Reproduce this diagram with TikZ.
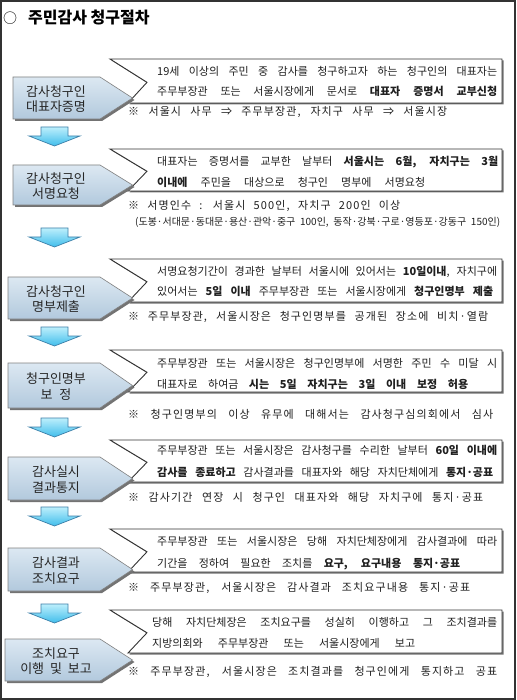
\documentclass[tikz,border=0pt]{standalone}
\usepackage{fontspec}
\usepackage{graphicx}
\setmainfont{Noto Sans CJK KR}[WordSpace=2]
\newfontfamily\notefont{Noto Sans CJK KR}[LetterSpace=10,WordSpace=2]
\newfontfamily\plainfont{Noto Sans CJK KR}
\definecolor{pentTop}{HTML}{DCE8F2}
\definecolor{pentBot}{HTML}{B2C9DD}
\definecolor{arrTop}{HTML}{BDEFFC}
\definecolor{arrBot}{HTML}{3FBDEB}
\definecolor{arrLine}{HTML}{3C7FA8}
\newlength\fitlen
\newcommand\fitto[2]{\settowidth{\fitlen}{#2}\ifdim\fitlen>#1\relax\resizebox{#1}{\height}{#2}\else\makebox[#1][s]{#2}\fi}
\tikzset{
  frame/.style={draw=black!80, line width=1.8pt},
  wboxstyle/.style={draw=black!80, fill=white, line width=0.9pt},
  wshadow/.style={fill=black!55},
  pentstyle/.style={draw=black!50, line width=0.6pt, top color=pentTop, bottom color=pentBot},
  pshadow/.style={fill=black!55},
  darr/.style={draw=arrLine, line width=0.7pt, top color=arrTop, bottom color=arrBot},
  mtxt/.style={inner sep=0pt, anchor=west, text height=8.5pt, text depth=2pt, font=\fontsize{11}{12}\selectfont, text=black!88},
  ntxt/.style={mtxt, font=\fontsize{11}{12}\notefont},
  plabel/.style={inner sep=0pt, align=center, font=\fontsize{13}{15.5}\selectfont, text=black!85},
}
\newcommand\pentagon[5]{%
  \fill[pshadow] ({#1+2},{#2+2}) -- (102,{#2+2}) -- (134.5,{(#2+#3)/2+2}) -- (102,{#3+2}) -- ({#1+2},{#3+2}) -- cycle;
  \draw[pentstyle] (#1,#2) -- (100,#2) -- (132.5,{(#2+#3)/2}) -- (100,#3) -- (#1,#3) -- cycle;
  \node[plabel] (#4) at (56,{(#2+#3)/2+1}) {#5};
}
\newcommand\wbox[2]{%
  \fill[wshadow] (111.5,{#1+1.5}) -- (503.5,{#1+1.5}) -- (503.5,{#2+1.5}) -- (129.5,{#2+1.5}) -- (148.5,{#1+0.53*(#2-#1)+1.5}) -- cycle;
  \draw[wboxstyle] (110,#1) -- (502,#1) -- (502,#2) -- (128,#2) -- (147,{#1+0.53*(#2-#1)}) -- cycle;
}
\newcommand\darrow[1]{%
  \draw[darr] (41,#1) -- (68,#1) -- (68,{#1+9}) -- (80,{#1+9}) -- (54.5,{#1+19}) -- (29,{#1+9}) -- (41,{#1+9}) -- cycle;
}
\begin{document}
\begin{tikzpicture}[x=1pt,y=-1pt]
\useasboundingbox (0,0) rectangle (516,700);
\fill[white] (0,0) rectangle (516,700);
\draw[frame] (1,1) rectangle (515,699);
% title
\node[inner sep=0pt, font=\fontsize{14}{15}\selectfont] (bullet) at (10,18) {○};
\node[inner sep=0pt, anchor=west, font=\fontsize{16}{18}\plainfont\bfseries] (title) at (28,18) {주민감사 청구절차};
% step 1
\wbox{59}{103}
\pentagon{13}{77}{119}{p1}{감사청구인\\대표자증명}
\node[mtxt] (t1a) at (157,72) {\fitto{340pt}{19세 이상의 주민 중 감사를 청구하고자 하는 청구인의 대표자는}};
\node[mtxt] (t1b) at (157,92) {\fitto{340pt}{주무부장관 또는 서울시장에게 문서로 \textbf{대표자 증명서 교부신청}}};
\node[ntxt] (n1) at (128,112) {\fitto{319pt}{※ 서울시 사무 ⇒ 주무부장관, 자치구 사무 ⇒ 서울시장}};
\darrow{127}
% step 2
\wbox{149}{191}
\pentagon{13}{165}{205}{p2}{감사청구인\\서명요청}
\node[mtxt] (t2a) at (157,162) {\fitto{341pt}{대표자는 증명서를 교부한 날부터 \textbf{서울시는 6월, 자치구는 3월}}};
\node[mtxt] (t2b) at (157,183) {\fitto{268pt}{\textbf{이내에} 주민을 대상으로 청구인 명부에 서명요청}};
\node[ntxt] (n2a) at (128,206) {\fitto{272pt}{※ 서명인수 : 서울시 500인, 자치구 200인 이상}};
\node[mtxt, font=\fontsize{10}{11}\selectfont] (n2b) at (135,222) {\fitto{365pt}{(도봉·서대문·동대문·용산·관악·중구 100인, 동작·강북·구로·영등포·강동구 150인)}};
\darrow{228}
% step 3
\wbox{259}{302}
\pentagon{8}{277}{319}{p3}{감사청구인\\명부제출}
\node[mtxt] (t3a) at (157,272) {\fitto{340pt}{서명요청기간이 경과한 날부터 서울시에 있어서는 \textbf{10일이내}, 자치구에}};
\node[mtxt] (t3b) at (157,292) {\fitto{336pt}{있어서는 \textbf{5일 이내} 주무부장관 또는 서울시장에게 \textbf{청구인명부 제출}}};
\node[ntxt] (n3) at (128,317) {\fitto{360pt}{※ 주무부장관, 서울시장은 청구인명부를 공개된 장소에 비치·열람}};
\darrow{327}
% step 4
\wbox{350}{392}
\pentagon{8}{363}{408}{p4}{청구인명부\\보\hspace{7pt}정}
\node[mtxt] (t4a) at (157,364) {\fitto{340pt}{주무부장관 또는 서울시장은 청구인명부에 서명한 주민 수 미달 시}};
\node[mtxt] (t4b) at (157,385) {\fitto{311pt}{대표자로 하여금 \textbf{시는 5일 자치구는 3일 이내 보정 허용}}};
\node[ntxt] (n4) at (128,415) {\fitto{365pt}{※ 청구인명부의 이상 유무에 대해서는 감사청구심의회에서 심사}};
\darrow{418}
% step 5
\wbox{440}{482}
\pentagon{8}{457}{500}{p5}{감사실시\\결과통지}
\node[mtxt] (t5a) at (157,451) {\fitto{340pt}{주무부장관 또는 서울시장은 감사청구를 수리한 날부터 \textbf{60일 이내에}}};
\node[mtxt] (t5b) at (157,473) {\fitto{336pt}{\textbf{감사를 종료하고} 감사결과를 대표자와 해당 자치단체에게 \textbf{통지·공표}}};
\node[ntxt] (n5) at (128,498) {\fitto{355pt}{※ 감사기간 연장 시 청구인 대표자와 해당 자치구에 통지·공표}};
\darrow{507}
% step 6
\wbox{529}{572}
\pentagon{8}{548}{591}{p6}{감사결과\\조치요구}
\node[mtxt] (t6a) at (157,542) {\fitto{340pt}{주무부장관 또는 서울시장은 당해 자치단체장에게 감사결과에 따라}};
\node[mtxt] (t6b) at (157,564) {\fitto{303pt}{기간을 정하여 필요한 조치를 \textbf{요구, 요구내용 통지·공표}}};
\node[ntxt] (n6) at (128,588) {\fitto{342pt}{※ 주무부장관, 서울시장은 감사결과 조치요구내용 통지·공표}};
\darrow{604}
% step 7
\wbox{610}{653}
\pentagon{5}{639}{681}{p7}{조치요구\\이행 및 보고}
\node[mtxt] (t7a) at (152,623) {\fitto{345pt}{당해 자치단체장은 조치요구를 성실히 이행하고 그 조치결과를}};
\node[mtxt] (t7b) at (152,644) {\fitto{263pt}{지방의회와 주무부장관 또는 서울시장에게 보고}};
\node[ntxt] (n7) at (128,672) {\fitto{369pt}{※ 주무부장관, 서울시장은 조치결과를 청구인에게 통지하고 공표}};
\end{tikzpicture}
\end{document}
